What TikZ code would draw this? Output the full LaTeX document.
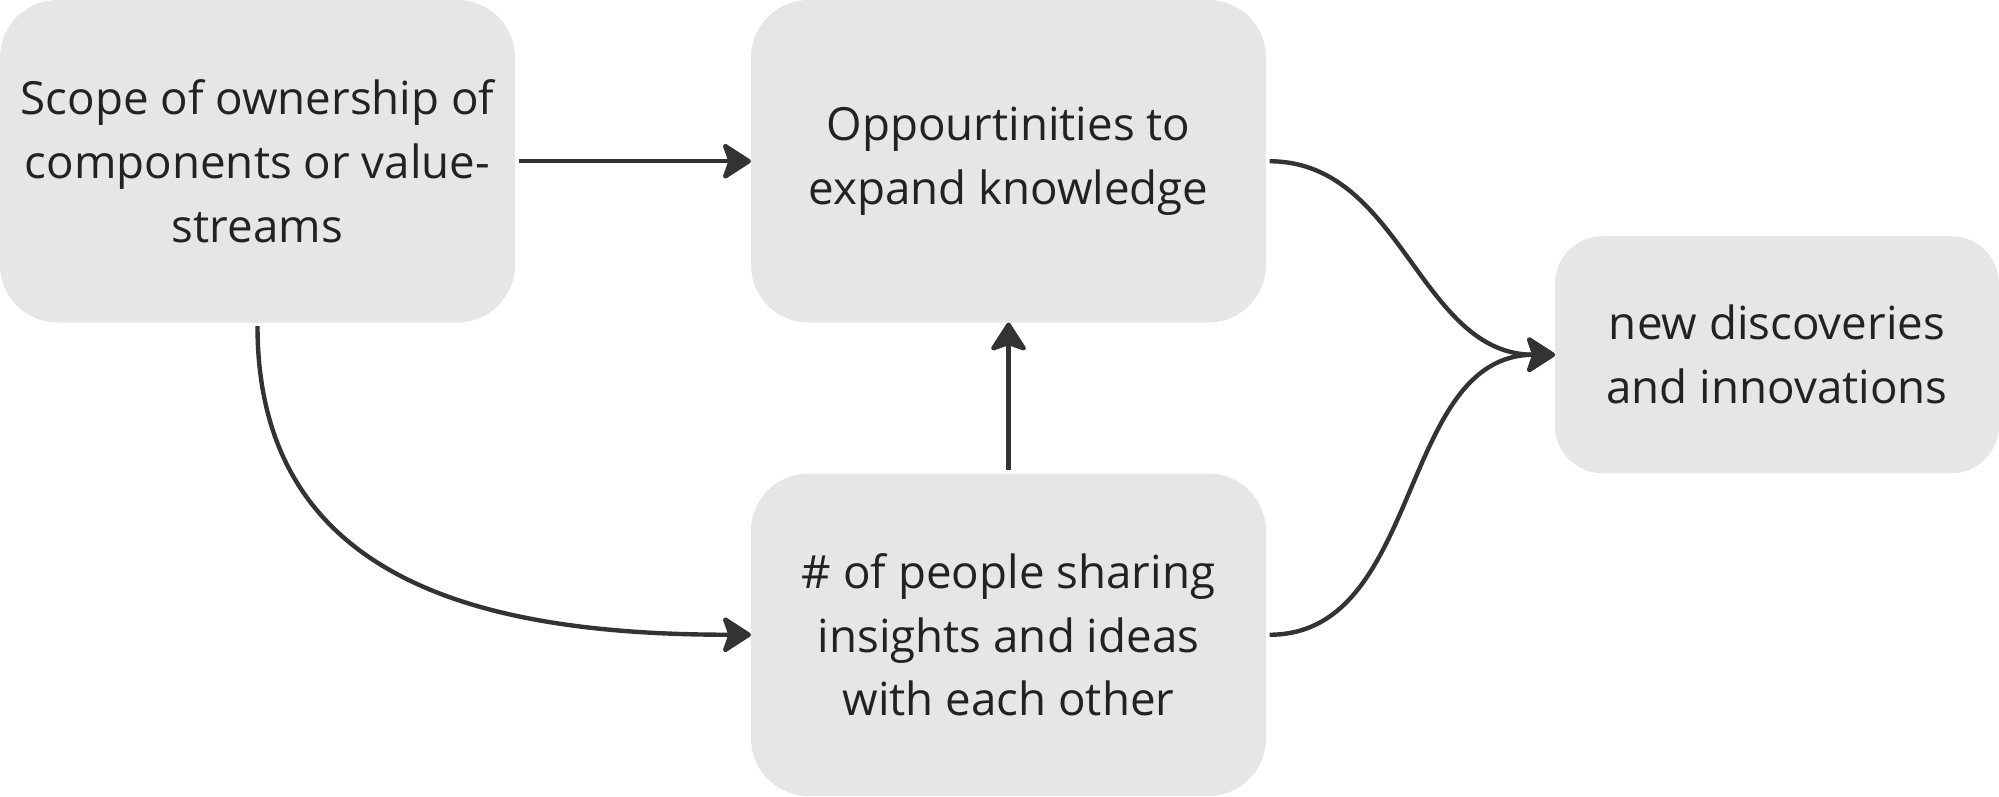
\documentclass[tikz,border=0pt]{standalone}
\usepackage{fontspec}
\setmainfont{Open Sans}
\usetikzlibrary{positioning,arrows.meta}
\definecolor{boxgrey}{HTML}{E6E6E6}
\definecolor{inkgrey}{HTML}{333333}
\definecolor{textgrey}{HTML}{222222}

\begin{document}
\begin{tikzpicture}[line width=2.5pt,>={Stealth[length=18pt,width=23pt,inset=4pt,round]},
  factor/.style={fill=boxgrey,rounded corners=1.15cm,text=textgrey,align=center,
    minimum width=10.3cm,minimum height=6.45cm,inner sep=0pt,outer sep=0pt,
    font=\fontsize{26}{36.4}\selectfont},
  link/.style={->,draw=inkgrey,shorten <=2pt}]

  \useasboundingbox (0,0) rectangle (39.98,-15.94);

  % what the team owns and what it leads to
  \node[factor,anchor=north west] (scope) at (0,0) {Scope of ownership of\\components or value-\\streams};
  \node[factor,right=4.72cm of scope] (learn) {Oppourtinities to\\expand knowledge};
  \node[factor,below=3.02cm of learn] (share) {\# of people sharing\\insights and ideas\\with each other};

  % the outcome
  \node[factor,below right=1.5cm and 5.78cm of learn.east,minimum width=8.88cm,minimum height=4.74cm,rounded corners=0.95cm] (discover) {new discoveries\\and innovations};

  \draw[link] (scope) -- (learn);
  \draw[link] (scope.south) to[out=-90,in=180,looseness=1.15] (share.west);
  \draw[link] (share) -- (learn);

  % both paths end in the same place
  \draw[link] (learn.east) to[out=0,in=180] (discover.west);
  \draw[link] (share.east) to[out=0,in=180] (discover.west);

\end{tikzpicture}
\end{document}
